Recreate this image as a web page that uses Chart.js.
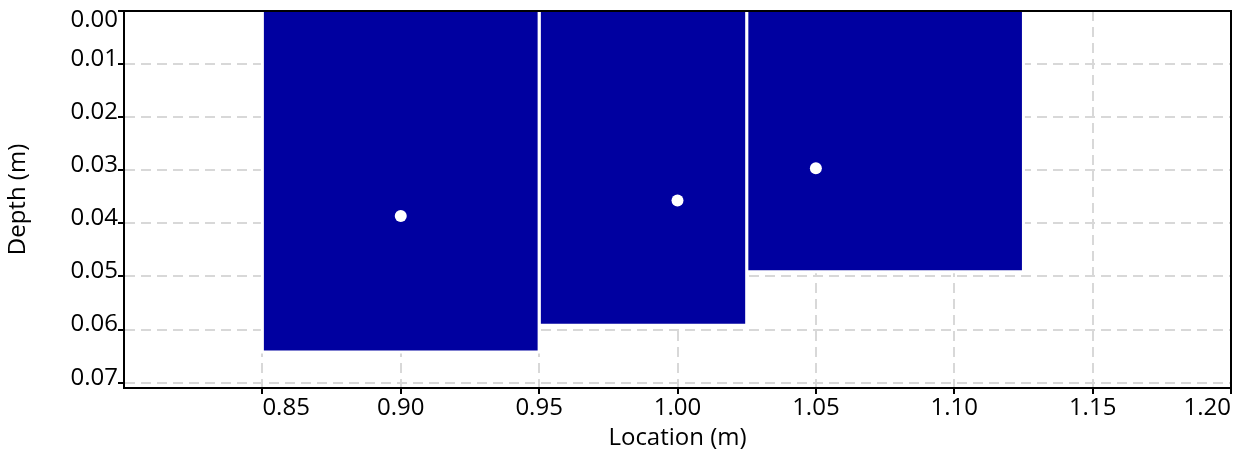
<!DOCTYPE html>
<html>
<head>
<meta charset="utf-8">
<script src="https://cdn.jsdelivr.net/npm/chart.js@4"></script>
<style>
  html, body { margin: 0; padding: 0; background: #fff; }
</style>
</head>
<body>
<canvas id="myChart" width="1245" height="455"></canvas>
<script>
// bins along the location axis and the depth reached in each
const binEdges = [0.85, 0.95, 1.025, 1.125];
const binDepths = [0.0642, 0.0592, 0.0491];
// measured points
const pointLocations = [0.90, 1.00, 1.05];
const pointDepths = [0.0386, 0.0357, 0.0296];
// tick labels
const xTicks = [0.80, 0.85, 0.90, 0.95, 1.00, 1.05, 1.10, 1.15, 1.20];
const yTicks = [0.00, 0.01, 0.02, 0.03, 0.04, 0.05, 0.06, 0.07];

const barColor = '#0000a0';
const gridColor = '#d8d8d8';
const font = { family: '"Open Sans", sans-serif', size: 24 };

const ctx = document.getElementById('myChart');

const datasets = [{
    type: 'scatter',
    data: pointLocations.map((x, i) => ({ x: x, y: pointDepths[i] })),
    backgroundColor: '#fff',
    borderColor: '#fff',
    pointRadius: 6,
    borderWidth: 0,
    order: 0
}];

binDepths.forEach((d, i) => {
    const x0 = binEdges[i], x1 = binEdges[i + 1];
    datasets.push({
        type: 'line',
        data: [{ x: x0, y: 0 }, { x: x0, y: d }, { x: x1, y: d }, { x: x1, y: 0 }],
        backgroundColor: barColor,
        borderColor: '#fff',
        borderWidth: 3,
        pointRadius: 0,
        tension: 0,
        fill: 'origin',
        order: 1
    });
});

const frame = {
    id: 'frame',
    afterDatasetsDraw(chart) {
        const a = chart.chartArea, c = chart.ctx;
        c.save();
        c.strokeStyle = '#000';
        c.lineWidth = 2;
        c.beginPath();
        c.moveTo(a.left, a.top);
        c.lineTo(a.right, a.top);
        c.lineTo(a.right, a.bottom);
        c.stroke();
        c.restore();
    }
};

new Chart(ctx, {
    data: { datasets: datasets },
    plugins: [frame],
    options: {
        responsive: false,
        animation: false,
        layout: { padding: { top: 11, right: 14, left: 0, bottom: 0 } },
        plugins: { legend: { display: false }, tooltip: { enabled: false } },
        scales: {
            x: {
                type: 'linear',
                min: 0.80,
                max: 1.20,
                afterBuildTicks: s => { s.ticks = xTicks.map(v => ({ value: v })) },
                afterFit: s => { s.height = 67; s.paddingLeft = 0; s.paddingRight = 0 },
                grid: { color: gridColor, lineWidth: 2, tickColor: '#000', tickLength: 6, tickWidth: 2, tickBorderDash: [] },
                border: { color: '#000', width: 2, dash: [10, 6] },
                ticks: {
                    color: '#000',
                    font: font,
                    padding: 0,
                    align: 'inner',
                    maxRotation: 0,
                    autoSkip: false,
                    callback: v => Math.abs(v - 0.80) < 1e-9 ? null : v.toFixed(2)
                },
                title: { display: true, text: 'Location (m)', color: '#000', font: font, padding: { top: 0, bottom: 2 } }
            },
            y: {
                type: 'linear',
                reverse: true,
                min: 0,
                max: 0.071,
                afterBuildTicks: s => { s.ticks = yTicks.map(v => ({ value: v })) },
                afterFit: s => { s.width = 124; s.paddingTop = 0; s.paddingBottom = 0 },
                grid: { color: gridColor, lineWidth: 2, tickColor: '#000', tickLength: 6, tickWidth: 2, tickBorderDash: [] },
                border: { color: '#000', width: 2, dash: [10, 6] },
                ticks: {
                    color: '#000',
                    font: font,
                    padding: 0,
                    labelOffset: -5,
                    autoSkip: false,
                    // top label pushed down one half line so it stays inside, as in the picture
                    callback: v => v === 0 ? ['', v.toFixed(2)] : v.toFixed(2)
                },
                title: { display: true, text: 'Depth (m)', color: '#000', font: font, padding: { top: 4, bottom: 0 } }
            }
        }
    }
});
</script>
</body>
</html>
